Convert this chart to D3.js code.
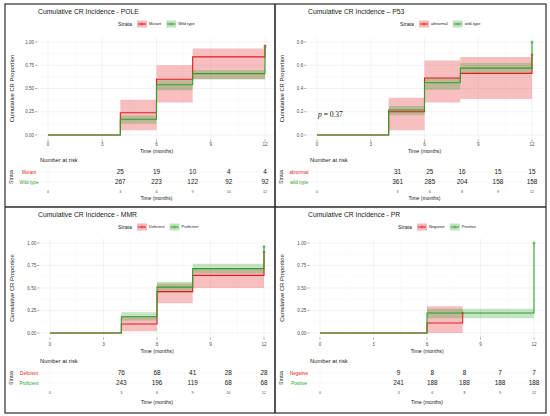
<!DOCTYPE html>
<html>
<head>
<meta charset="utf-8">
<script src="https://cdn.jsdelivr.net/npm/d3@7"></script>
<style>
  body { margin: 0; background: #fff; }
  svg { display: block; font-family: "Liberation Sans", Arial, sans-serif; }
</style>
</head>
<body>
<div id="root"></div>
<script>
// ---- data ----
const months = [0, 3, 6, 9, 12];
const yTicksQuarter = [0, 0.25, 0.5, 0.75, 1];
const yTicksFifth = [0, 0.2, 0.4, 0.6, 0.8];

// POLE
const poleTimes = [0, 4, 6, 8, 12];
const poleMutEst = [0, 0.24, 0.60, 0.84, 0.96];
const poleMutLo = [0, 0.05, 0.35, 0.60];
const poleMutHi = [0, 0.38, 0.75, 0.93];
const poleWildEst = [0, 0.17, 0.54, 0.66, 0.94];
const poleWildLo = [0, 0.12, 0.48, 0.60];
const poleWildHi = [0, 0.21, 0.59, 0.70];
const poleRiskMut = [25, 19, 10, 4, 4];
const poleRiskWild = [267, 223, 122, 92, 92];
const poleRiskTimes = [4, 6, 8, 10, 12];
const poleRiskLabels = ['0', '3', '6', '9', '10', '12'];

// P53
const p53Times = [0, 4, 6, 8, 12];
const p53AbnEst = [0, 0.20, 0.49, 0.53, 0.69];
const p53AbnLo = [0, 0.04, 0.28, 0.31];
const p53AbnHi = [0, 0.32, 0.64, 0.67];
const p53WildEst = [0, 0.215, 0.45, 0.575, 0.80];
const p53WildLo = [0, 0.17, 0.39, 0.53];
const p53WildHi = [0, 0.25, 0.49, 0.62];
const p53RiskAbn = [31, 25, 16, 15, 15];
const p53RiskWild = [361, 285, 204, 158, 158];
const p53RiskTimes = [4.5, 6.3, 8.1, 10.1, 12];
const p53RiskLabels = ['0', '3', '6', '8', '9', '12'];

// MMR
const mmrTimes = [0, 4, 6, 8, 12];
const mmrDefEst = [0, 0.10, 0.46, 0.64, 0.90];
const mmrDefLo = [0, 0.02, 0.33, 0.50];
const mmrDefHi = [0, 0.19, 0.55, 0.71];
const mmrProEst = [0, 0.18, 0.51, 0.715, 0.96];
const mmrProLo = [0, 0.14, 0.45, 0.66];
const mmrProHi = [0, 0.23, 0.57, 0.77];
const mmrRiskDef = [76, 68, 41, 28, 28];
const mmrRiskPro = [243, 196, 119, 68, 68];
const mmrRiskTimes = [4, 6, 8, 10, 12];
const mmrRiskLabels = ['0', '3', '6', '9', '10', '12'];

// PR
const prNegTimes = [0, 6, 8];
const prNegEst = [0, 0.111, 0.222];
const prNegLo = [0, 0];
const prNegHi = [0, 0.296];
const prPosTimes = [0, 6, 8, 12];
const prPosEst = [0, 0.222, 0.222, 1.0];
const prPosLo = [0, 0.165, 0.165];
const prPosHi = [0, 0.27, 0.27];
const prRiskNeg = [9, 8, 8, 7, 7];
const prRiskPos = [241, 188, 188, 188, 188];
const prRiskTimes = [4.4, 6.3, 8.1, 10.1, 12];
const prRiskLabels = ['0', '3', '6', '8', '9', '12'];

// ---- styling / layout ----
const W = 550, H = 416;
const RED = '#E41A1C', GREEN = '#2CA02C';

const panelBoxes = [
  { x0: 5, y0: 4, x1: 275, y1: 207 },
  { x0: 275, y0: 4, x1: 546, y1: 207 },
  { x0: 5, y0: 207, x1: 275, y1: 413 },
  { x0: 275, y0: 207, x1: 546, y1: 413 }
];
const topRow = { plotTop: 38, plotBottom: 131, xTick: 140, xTitle: 147, nar: 156, rows: [168, 178], rTick: 188, rTitle: 194 };
const bottomRow = { plotTop: 36, plotBottom: 126, xTick: 137, xTitle: 144, nar: 154, rows: [166, 176], rTick: 186, rTitle: 195 };

const mk = (name, color, times, est, lo, hi, risk) => ({ name, color, times, est, lo, hi, risk });

const panels = [
  {
    title: 'Cumulative CR Incidence - POLE', xl: 43, xr: 260, legendX: 113,
    yMax: 1, yTicks: yTicksQuarter, yFmt: d3.format('.2f'),
    riskTimes: poleRiskTimes, riskLabels: poleRiskLabels,
    strata: [
      mk('Mutant', RED, poleTimes, poleMutEst, poleMutLo, poleMutHi, poleRiskMut),
      mk('Wild type', GREEN, poleTimes, poleWildEst, poleWildLo, poleWildHi, poleRiskWild)
    ]
  },
  {
    title: 'Cumulative CR Incidence \u2013 P53', xl: 42, xr: 257, legendX: 125,
    yMax: 0.8, yTicks: yTicksFifth, yFmt: d3.format('.1f'), pText: 0.37,
    riskTimes: p53RiskTimes, riskLabels: p53RiskLabels,
    strata: [
      mk('abnormal', RED, p53Times, p53AbnEst, p53AbnLo, p53AbnHi, p53RiskAbn),
      mk('wild-type', GREEN, p53Times, p53WildEst, p53WildLo, p53WildHi, p53RiskWild)
    ]
  },
  {
    title: 'Cumulative CR Incidence - MMR', xl: 45, xr: 259, legendX: 113,
    yMax: 1, yTicks: yTicksQuarter, yFmt: d3.format('.2f'),
    riskTimes: mmrRiskTimes, riskLabels: mmrRiskLabels,
    strata: [
      mk('Deficient', RED, mmrTimes, mmrDefEst, mmrDefLo, mmrDefHi, mmrRiskDef),
      mk('Proficient', GREEN, mmrTimes, mmrProEst, mmrProLo, mmrProHi, mmrRiskPro)
    ]
  },
  {
    title: 'Cumulative CR Incidence - PR', xl: 45, xr: 259, legendX: 123,
    yMax: 1, yTicks: yTicksQuarter, yFmt: d3.format('.2f'),
    riskTimes: prRiskTimes, riskLabels: prRiskLabels,
    strata: [
      mk('Negative', RED, prNegTimes, prNegEst, prNegLo, prNegHi, prRiskNeg),
      mk('Positive', GREEN, prPosTimes, prPosEst, prPosLo, prPosHi, prRiskPos)
    ]
  }
];

const svg = d3.select('#root').append('svg')
  .attr('width', W).attr('height', H);

svg.append('rect').attr('width', W).attr('height', H).attr('fill', '#fff');

panels.forEach((p, i) => {
  const box = panelBoxes[i];
  const L = box.y0 > 100 ? bottomRow : topRow;
  const g = svg.append('g').attr('transform', `translate(${box.x0},${box.y0})`);

  const x = d3.scaleLinear().domain([0, 12]).range([p.xl, p.xr]);
  const y = d3.scaleLinear().domain([0, p.yMax]).range([L.plotBottom, L.plotTop]);
  const px0 = x(-0.6), px1 = x(12.6);
  const py0 = y(-0.05 * p.yMax), py1 = y(1.05 * p.yMax);

  // grid
  const grid = g.append('g');
  const minorX = months.slice(1).map(m => m - 1.5);
  const step = p.yTicks[1] - p.yTicks[0];
  const minorY = p.yTicks.slice(1).map(t => t - step / 2);
  grid.selectAll('.vminor').data(minorX).join('line')
    .attr('x1', d => x(d)).attr('x2', d => x(d)).attr('y1', py0).attr('y2', py1)
    .attr('stroke', '#f3f3f3').attr('stroke-width', 0.4);
  grid.selectAll('.hminor').data(minorY).join('line')
    .attr('x1', px0).attr('x2', px1).attr('y1', d => y(d)).attr('y2', d => y(d))
    .attr('stroke', '#f3f3f3').attr('stroke-width', 0.4);
  grid.selectAll('.vmajor').data(months).join('line')
    .attr('x1', d => x(d)).attr('x2', d => x(d)).attr('y1', py0).attr('y2', py1)
    .attr('stroke', '#ebebeb').attr('stroke-width', 0.6);
  grid.selectAll('.hmajor').data(p.yTicks).join('line')
    .attr('x1', px0).attr('x2', px1).attr('y1', d => y(d)).attr('y2', d => y(d))
    .attr('stroke', '#ebebeb').attr('stroke-width', 0.6);

  // bands
  p.strata.forEach(s => {
    const n = s.times.length;
    const pts = s.lo.map((lo, k) => ({ t: s.times[k], lo, hi: s.hi[k] }));
    pts.push({ t: s.times[n - 1], lo: s.lo[n - 2], hi: s.hi[n - 2] });
    g.append('path').datum(pts)
      .attr('d', d3.area().curve(d3.curveStepAfter)
        .x(d => x(d.t)).y0(d => y(d.lo)).y1(d => y(d.hi)))
      .attr('fill', s.color).attr('fill-opacity', 0.28);
  });

  // curves
  p.strata.forEach(s => {
    const pts = s.times.map((t, k) => ({ t, v: s.est[k] }));
    g.append('path').datum(pts)
      .attr('d', d3.line().curve(d3.curveStepAfter).x(d => x(d.t)).y(d => y(d.v)))
      .attr('fill', 'none').attr('stroke', s.color).attr('stroke-width', 1.1);
    const last = pts[pts.length - 1];
    const cx = x(last.t), cy = y(last.v);
    g.append('path')
      .attr('d', `M${cx - 1.5},${cy}H${cx + 1.5}M${cx},${cy - 1.5}V${cy + 1.5}`)
      .attr('stroke', s.color).attr('stroke-width', 0.7);
  });

  // y axis
  const yAx = g.append('g');
  yAx.selectAll('line').data(p.yTicks).join('line')
    .attr('x1', px0 - 2).attr('x2', px0).attr('y1', d => y(d)).attr('y2', d => y(d))
    .attr('stroke', '#555').attr('stroke-width', 0.5);
  yAx.selectAll('text').data(p.yTicks).join('text')
    .attr('x', px0 - 3).attr('y', d => y(d)).attr('dy', '0.35em')
    .attr('text-anchor', 'end').attr('font-size', 4.6).attr('fill', '#4d4d4d')
    .text(d => p.yFmt(d));
  g.append('text')
    .attr('transform', `translate(7,${(L.plotTop + L.plotBottom) / 2}) rotate(-90)`)
    .attr('text-anchor', 'middle').attr('dy', '0.35em')
    .attr('font-size', 5.8).attr('fill', '#222')
    .text('Cumulative CR Proportion');

  // x axis
  const xAx = g.append('g');
  xAx.selectAll('line').data(months).join('line')
    .attr('x1', d => x(d)).attr('x2', d => x(d)).attr('y1', py0).attr('y2', py0 + 2)
    .attr('stroke', '#555').attr('stroke-width', 0.5);
  xAx.selectAll('text').data(months).join('text')
    .attr('x', d => x(d)).attr('y', L.xTick).attr('dy', '0.35em')
    .attr('text-anchor', 'middle').attr('font-size', 4.6).attr('fill', '#4d4d4d')
    .text(d => d);
  g.append('text')
    .attr('x', (px0 + px1) / 2).attr('y', L.xTitle).attr('dy', '0.35em')
    .attr('text-anchor', 'middle').attr('font-size', 5.2).attr('fill', '#222')
    .text('Time (months)');

  // title
  g.append('text')
    .attr('x', 33).attr('y', 8).attr('dy', '0.35em')
    .attr('font-size', 6.8).attr('fill', '#222')
    .text(p.title);

  // legend
  const lg = g.append('g').attr('transform', `translate(${p.legendX},20)`);
  lg.append('text').attr('x', 0).attr('y', 0).attr('dy', '0.35em')
    .attr('font-size', 5.2).attr('fill', '#222').text('Strata');
  let lx = 19;
  p.strata.forEach(s => {
    lg.append('rect').attr('x', lx).attr('y', -3.5).attr('width', 10).attr('height', 7)
      .attr('fill', s.color).attr('fill-opacity', 0.3);
    lg.append('line').attr('x1', lx + 1).attr('x2', lx + 9).attr('y1', 0).attr('y2', 0)
      .attr('stroke', s.color).attr('stroke-width', 1);
    lg.append('path').attr('d', `M${lx + 5},-1.5V1.5`).attr('stroke', s.color).attr('stroke-width', 0.6);
    const t = lg.append('text').attr('x', lx + 12).attr('y', 0).attr('dy', '0.35em')
      .attr('font-size', 4).attr('fill', '#222').text(s.name);
    lx += 12 + t.node().getComputedTextLength() + 5;
  });

  // p value
  if (p.pText !== undefined) {
    g.append('text')
      .attr('x', 43).attr('y', 110).attr('dy', '0.35em')
      .attr('font-family', '"Liberation Serif", "DejaVu Serif", serif')
      .attr('font-size', 7.5).attr('fill', '#111')
      .html(`<tspan font-style="italic">p</tspan> = ${p.pText}`);
  }

  // risk table
  g.append('text')
    .attr('x', 35).attr('y', L.nar).attr('dy', '0.35em')
    .attr('font-size', 5.8).attr('fill', '#222').text('Number at risk');

  const rg = g.append('g');
  const riskTicks = [0].concat(p.riskTimes);
  rg.selectAll('.rv').data(riskTicks).join('line')
    .attr('x1', d => x(d)).attr('x2', d => x(d))
    .attr('y1', L.rows[0] - 5).attr('y2', L.rows[1] + 5)
    .attr('stroke', '#f0f0f0').attr('stroke-width', 0.5);
  rg.selectAll('.rh').data(L.rows).join('line')
    .attr('x1', px0).attr('x2', px1).attr('y1', d => d).attr('y2', d => d)
    .attr('stroke', '#f0f0f0').attr('stroke-width', 0.5);

  p.strata.forEach((s, k) => {
    const ry = L.rows[k];
    g.append('text').attr('x', 24).attr('y', ry).attr('dy', '0.35em')
      .attr('text-anchor', 'middle').attr('font-size', 4.6).attr('fill', s.color)
      .text(s.name);
    g.selectAll(null).data(s.risk).join('text')
      .attr('x', (d, j) => x(p.riskTimes[j])).attr('y', ry).attr('dy', '0.35em')
      .attr('text-anchor', 'middle').attr('font-size', 6.4).attr('fill', '#222')
      .text(d => d);
  });
  g.append('text')
    .attr('transform', `translate(6,${(L.rows[0] + L.rows[1]) / 2}) rotate(-90)`)
    .attr('text-anchor', 'middle').attr('dy', '0.35em')
    .attr('font-size', 5.2).attr('fill', '#222').text('Strata');

  g.selectAll(null).data(riskTicks).join('text')
    .attr('x', d => x(d)).attr('y', L.rTick).attr('dy', '0.35em')
    .attr('text-anchor', 'middle').attr('font-size', 3.8).attr('fill', '#555')
    .text((d, j) => p.riskLabels[j]);
  g.append('text')
    .attr('x', (px0 + px1) / 2).attr('y', L.rTitle).attr('dy', '0.35em')
    .attr('text-anchor', 'middle').attr('font-size', 5).attr('fill', '#222')
    .text('Time (months)');
});

// panel frame lines
const frame = svg.append('g').attr('stroke', '#2a2a2a').attr('fill', 'none');
frame.append('rect').attr('x', 5).attr('y', 4).attr('width', 541).attr('height', 409)
  .attr('stroke-width', 1.2);
frame.append('line').attr('x1', 275).attr('x2', 275).attr('y1', 4).attr('y2', 413)
  .attr('stroke-width', 1.6);
frame.append('line').attr('x1', 5).attr('x2', 546).attr('y1', 207).attr('y2', 207)
  .attr('stroke-width', 1.6);
</script>
</body>
</html>
